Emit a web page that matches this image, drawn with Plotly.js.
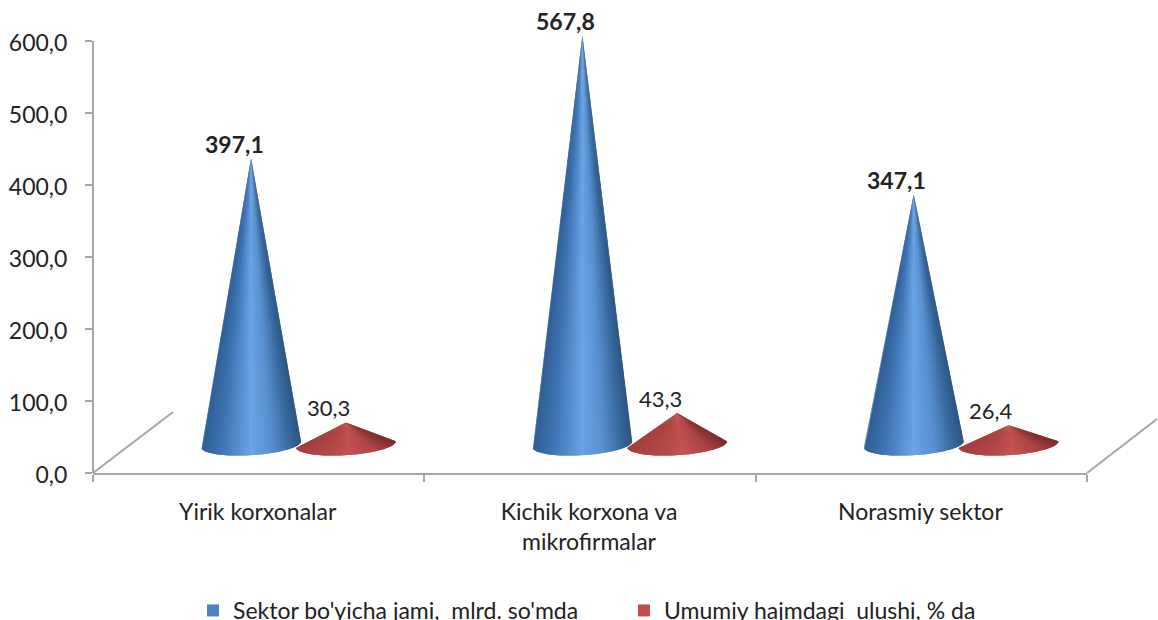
<!DOCTYPE html>
<html>
<head>
<meta charset="utf-8">
<script src="https://cdn.plot.ly/plotly-3.0.1.min.js"></script>
<style>html,body{margin:0;padding:0;background:#fff}#c{width:1158px;height:620px}</style>
</head>
<body>
<div id="c"></div>
<script>
var categories = ["Yirik korxonalar", "Kichik korxona va<br>mikrofirmalar", "Norasmiy sektor"];
var seriesBlueName = "Sektor bo'yicha jami,  mlrd. so'mda";
var seriesRedName = "Umumiy hajmdagi  ulushi, % da";
var seriesBlue = [397.1, 567.8, 347.1];
var seriesRed = [30.3, 43.3, 26.4];
var yTicks = [0, 100, 200, 300, 400, 500, 600];

var FONT = "Lato, 'Open Sans', sans-serif";
var TXT = "#222222", AX = "#a6a6a6";
var W = 994, H = 450;            // plot size in px
var PXY = 0.72, PXX = W / 3;     // px per y unit, px per category
var FLOOR = 40;                  // pseudo-3D floor lift in y units
var BLUE_POS = 0.477, RED_POS = 0.763, HALF = 50 / PXX;

var blueShade = [[0, [47, 93, 146]], [0.2, [63, 116, 179]], [0.5, [106, 163, 230]], [0.7, [90, 144, 208]], [0.9, [55, 102, 156]], [1, [44, 85, 128]]];
var redShade = [[0, [163, 63, 62]], [0.4, [184, 75, 73]], [0.55, [196, 82, 79]], [0.8, [175, 70, 69]], [1, [125, 45, 44]]];

function shadeAt(stops, u) {
  for (var i = 1; i < stops.length; i++) {
    if (u <= stops[i][0]) {
      var f = (u - stops[i - 1][0]) / (stops[i][0] - stops[i - 1][0]);
      var a = stops[i - 1][1], b = stops[i][1];
      return "rgb(" + a.map(function (v, k) { return Math.round(v + (b[k] - v) * f); }).join(",") + ")";
    }
  }
  return "rgb(" + stops[stops.length - 1][1].join(",") + ")";
}
// A cone is painted left to right as narrow slices apex -> base arc, so shading follows the cone.
function cone(cat, pos, value, stops) {
  var cx = cat + pos, out = [], STEP = 4;
  for (var d = 180; d < 360; d += STEP) {
    var xs = [cx], ys = [value + FLOOR];
    for (var e = d; e <= Math.min(d + 2 * STEP, 360); e += STEP) {
      var t = e * Math.PI / 180;
      xs.push(cx + HALF * Math.cos(t));
      ys.push(FLOOR + (3 * Math.cos(t) + 11 * Math.sin(t)) / PXY);
    }
    xs.push(cx); ys.push(value + FLOOR);
    var mid = (d + STEP / 2) * Math.PI / 180;
    var c = shadeAt(stops, (1 + Math.cos(mid)) / 2);
    out.push({
      type: "scatter", mode: "lines", x: xs, y: ys, fill: "toself", fillcolor: c,
      line: {width: 0, color: c}, hoverinfo: "skip", showlegend: false
    });
  }
  return out;
}
function fmt(v) { return v.toFixed(1).replace(".", ","); }
function label(cat, pos, value, bold) {
  return {
    xref: "x", yref: "y", x: cat + pos, y: value + FLOOR, xshift: -17, yshift: bold ? -2 : -1,
    text: bold ? "<b>" + fmt(value) + "</b>" : fmt(value),
    showarrow: false, yanchor: "bottom", xanchor: "center",
    font: {family: FONT, size: bold ? 23 : 22, color: TXT}
  };
}
var traces = [], annotations = [];
categories.forEach(function (c, i) {
  traces = traces.concat(cone(i, BLUE_POS, seriesBlue[i], blueShade));
  traces = traces.concat(cone(i, RED_POS, seriesRed[i], redShade));
  annotations.push(label(i, BLUE_POS, seriesBlue[i], true));
  annotations.push(label(i, RED_POS, seriesRed[i], false));
});
traces.push({type: "scatter", mode: "markers", x: [null], y: [null], name: seriesBlueName,
  marker: {symbol: "square", size: 12, color: "#4f81bd"}});
traces.push({type: "scatter", mode: "markers", x: [null], y: [null], name: seriesRedName,
  marker: {symbol: "square", size: 12, color: "#c0504d"}});

function line(x0, y0, x1, y1) {
  return {type: "line", xref: "paper", yref: "paper", x0: x0, y0: y0, x1: x1, y1: y1,
    line: {color: AX, width: 2}, layer: "below"};
}
var topFrac = 432 / H;
var shapes = [
  line(0, 0, 0, topFrac),
  line(0, 0, 80 / W, 61 / H),
  line(1, 0, 1 + 70 / W, 54 / H)
];

var layout = {
  width: 1158, height: 620,
  margin: {l: 93, r: 71, t: 23, b: 147, pad: 0, autoexpand: false},
  paper_bgcolor: "#fff", plot_bgcolor: "#fff",
  separators: ",.",
  font: {family: FONT, size: 18, color: TXT},
  xaxis: {
    range: [0, 3], tickmode: "array", tickvals: [0.5, 1.5, 2.5], ticktext: categories,
    ticks: "", showgrid: false, zeroline: false, showline: true, linecolor: AX, linewidth: 2,
    fixedrange: true, ticklabelstandoff: 17, ticklabelshift: -1,
    tickfont: {family: FONT, size: 23, color: TXT},
    minor: {tickmode: "array", tickvals: [0, 1, 2, 3], ticks: "outside", ticklen: 7, tickwidth: 2, tickcolor: AX, showgrid: false}
  },
  yaxis: {
    range: [0, H / PXY], tickmode: "array", tickvals: yTicks, tickformat: ".1f",
    ticks: "outside", ticklen: 7, tickwidth: 2, tickcolor: AX,
    showgrid: false, zeroline: false, showline: false, fixedrange: true,
    ticklabelstandoff: 13, ticklabelshift: 2,
    tickfont: {family: FONT, size: 23, color: TXT}
  },
  shapes: shapes,
  annotations: annotations,
  showlegend: true,
  legend: {orientation: "h", x: 100 / W, xanchor: "left", y: -116 / H, yanchor: "top",
    entrywidth: 386, entrywidthmode: "pixels",
    font: {family: FONT, size: 23, color: TXT}, bgcolor: "rgba(0,0,0,0)"}
};
Plotly.newPlot("c", traces, layout, {displayModeBar: false, staticPlot: true});
</script>
</body>
</html>
